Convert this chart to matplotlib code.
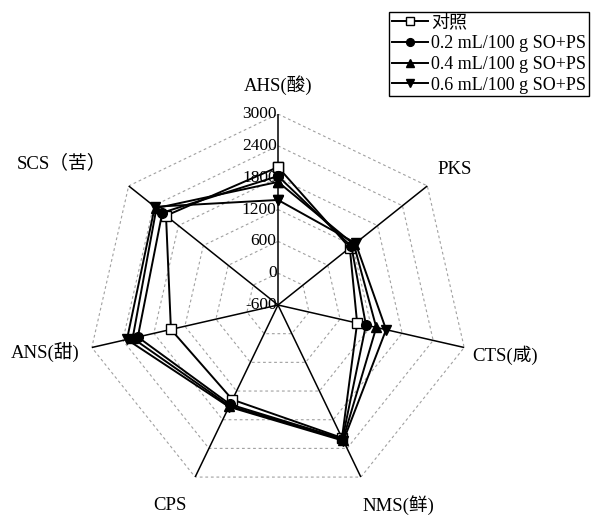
import numpy as np
import matplotlib

matplotlib.use("Agg")
import matplotlib.pyplot as plt  # noqa: E402

plt.rcParams["font.family"] = ["Liberation Serif", "Noto Sans CJK SC"]

axes_names = ["AHS(酸)", "PKS", "CTS(咸)", "NMS(鲜)", "CPS", "ANS(甜)", "SCS（苦）"]
r_ticks = [-600, 0, 600, 1200, 1800, 2400, 3000]

series_names = ["对照", "0.2 mL/100 g SO+PS", "0.4 mL/100 g SO+PS", "0.6 mL/100 g SO+PS"]
ctrl = [2000, 1130, 930, 2180, 1380, 1470, 2100]
so_02 = [1830, 1170, 1100, 2200, 1480, 2110, 2190]
so_04 = [1720, 1230, 1300, 2220, 1510, 2210, 2330]
so_06 = [1380, 1270, 1490, 2240, 1530, 2320, 2370]

markers = ["s", "o", "^", "v"]
faces = ["white", "black", "black", "black"]

# label centres in figure pixels (x from left, y from top)
label_px = [(278, 85), (455, 170), (505, 355), (398, 505),
            (170, 505), (45, 353), (62, 163)]

W, H = 596, 516
fig = plt.figure(figsize=(W / 100, H / 100), dpi=100)
cx, cy, rad = 278, 305, 191
ax = fig.add_axes([(cx - rad) / W, (H - cy - rad) / H, 2 * rad / W, 2 * rad / H],
                  projection="polar")
ax.set_theta_zero_location("N")
ax.set_theta_direction(-1)
ax.set_ylim(r_ticks[0], r_ticks[-1])
ax.grid(False)
ax.set_xticks([])
ax.set_yticks([])
ax.spines["polar"].set_visible(False)
ax.patch.set_visible(False)

n = len(axes_names)
theta = np.arange(n) * 2 * np.pi / n
closed = np.append(theta, theta[0])

# polygon grid
for v in r_ticks[1:]:
    ax.plot(closed, [v] * (n + 1), color="#a0a0a0", lw=0.8,
            ls=(0, (2.5, 2.5)), zorder=1)
# spokes
for t in theta:
    ax.plot([t, t], [r_ticks[0], r_ticks[-1]], color="black", lw=1.1, zorder=2)

# radial tick labels along the top spoke
for v in r_ticks:
    ax.annotate(str(v), xy=(0, v), xytext=(-1, 0), textcoords="offset points",
                ha="right", va="center", fontsize=12.5, zorder=6)

for vals, name, m, fc in zip([ctrl, so_02, so_04, so_06], series_names, markers, faces):
    ax.plot(closed, vals + vals[:1], color="black", lw=1.4, marker=m,
            markersize=7, markerfacecolor=fc, markeredgecolor="black",
            markeredgewidth=1.0, label=name, zorder=4, clip_on=False)

for name, (px, py) in zip(axes_names, label_px):
    fig.text(px / W, 1 - py / H, name, ha="center", va="center", fontsize=13.5)

leg = fig.legend(loc="upper left", bbox_to_anchor=(389 / W, 1 - 12 / H),
                 fontsize=13, handlelength=2.0, handletextpad=0.2,
                 labelspacing=0.2, borderpad=0.15, borderaxespad=0,
                 markerscale=0.8, fancybox=False, framealpha=1,
                 edgecolor="black")
leg.get_frame().set_linewidth(1.0)

fig.savefig("out.png", dpi=100)
